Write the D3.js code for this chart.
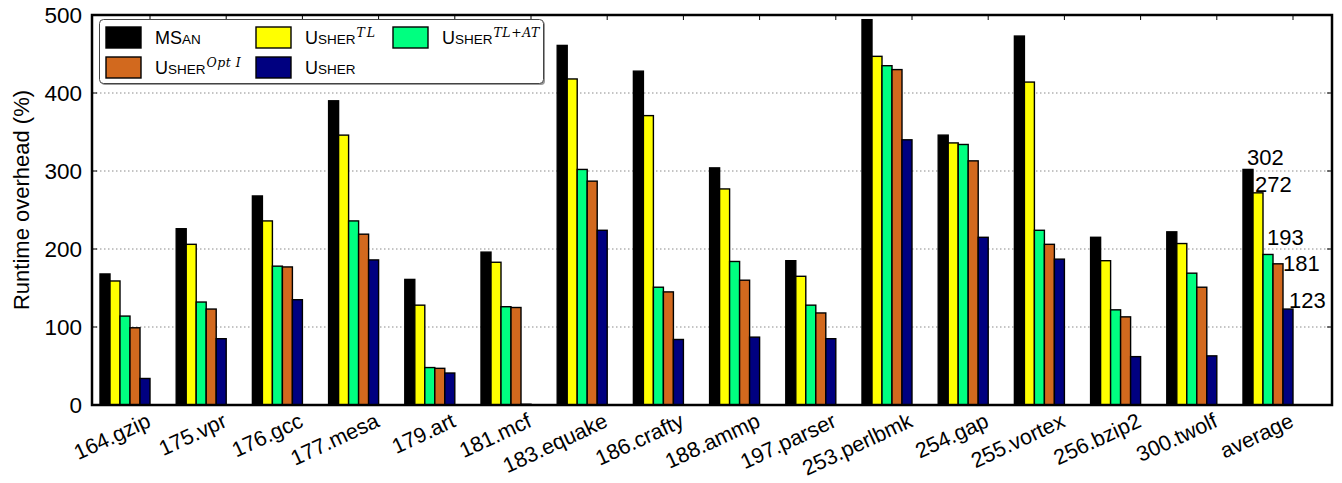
<!DOCTYPE html>
<html><head><meta charset="utf-8">
<script src="https://cdn.jsdelivr.net/npm/d3@7"></script>
<style>
html,body{margin:0;padding:0;background:#fff;}
text{font-family:"Liberation Sans",Arial,Helvetica,sans-serif;fill:#000;}
</style></head>
<body>
<svg id="chart" width="1342" height="483"></svg>
<script>
const categories = ["164.gzip","175.vpr","176.gcc","177.mesa","179.art","181.mcf","183.equake","186.crafty","188.ammp","197.parser","253.perlbmk","254.gap","255.vortex","256.bzip2","300.twolf","average"];
const msan      = [168,226,268,390,161,196,461,428,304,185,494,346,473,215,222,302];
const usherTL   = [159,206,236,346,128,183,418,371,277,165,447,336,414,185,207,272];
const usherTLAT = [114,132,178,236, 48,126,302,151,184,128,435,334,224,122,169,193];
const usherOpt  = [ 99,123,177,219, 47,125,287,145,160,118,430,313,206,113,151,181];
const usher     = [ 34, 85,135,186, 41,  1,224, 84, 87, 85,340,215,187, 62, 63,123];
const yTicks = [0,100,200,300,400,500];
const averageLabels = ["302","272","193","181","123"];

const seriesKeys = ["msan","tl","tlat","opt","usher"];
const seriesValues = {msan:msan, tl:usherTL, tlat:usherTLAT, opt:usherOpt, usher:usher};
const colors = {msan:"#000000", tl:"#ffff00", tlat:"#00ff80", opt:"#d2691e", usher:"#000080"};
const legendOrder = ["msan","tl","tlat","opt","usher"];
// label nudges (px) relative to bar top-left for the average labels
const labelNudge = [[4,-4],[2,-1],[4,-9],[10,7],[6,-1]];

const svg = d3.select("#chart");
const L = 92, R = 1332, T = 15, B = 405;
const groupStep = 76.2, firstGroup = 100, clusterW = 50;

const x = d3.scaleBand().domain(categories).range([firstGroup, firstGroup + groupStep*categories.length]).padding(0);
const xs = d3.scaleBand().domain(seriesKeys).range([0, clusterW]).padding(0);
const y = d3.scaleLinear().domain([0,500]).range([B, T]);

// gridlines
svg.append("g").selectAll("line").data(yTicks.filter(t => t>0 && t<500)).join("line")
  .attr("x1", L).attr("x2", R).attr("y1", d=>y(d)).attr("y2", d=>y(d))
  .attr("stroke","#8a8a8a").attr("stroke-width",1).attr("stroke-dasharray","1.5,2.5");

// bars
const groups = svg.append("g").selectAll("g").data(categories).join("g")
  .attr("transform", d => `translate(${x(d)},0)`);
groups.selectAll("rect").data((d,i) => seriesKeys.map(k => ({k, v: seriesValues[k][i]}))).join("rect")
  .attr("x", d => xs(d.k)).attr("width", xs.bandwidth())
  .attr("y", d => y(d.v)).attr("height", d => y(0) - y(d.v))
  .attr("fill", d => colors[d.k]).attr("stroke","#000").attr("stroke-width",1.4);

// ticks
const tk = svg.append("g").attr("stroke","#000").attr("stroke-width",1);
yTicks.forEach(t => {
  tk.append("line").attr("x1",L).attr("x2",L+5).attr("y1",y(t)).attr("y2",y(t));
  tk.append("line").attr("x1",R-5).attr("x2",R).attr("y1",y(t)).attr("y2",y(t));
});
categories.forEach(c => {
  const xx = x(c) + clusterW;
  tk.append("line").attr("x1",xx).attr("x2",xx).attr("y1",T).attr("y2",T+5);
});

// frame
svg.append("rect").attr("x",L).attr("y",T).attr("width",R-L).attr("height",B-T)
  .attr("fill","none").attr("stroke","#000").attr("stroke-width",2.5);

// y tick labels
svg.append("g").selectAll("text").data(yTicks).join("text")
  .attr("x", 82).attr("y", d => y(d)).attr("dy","0.36em")
  .attr("text-anchor","end").attr("font-size",22.5).text(d => d);

// y title
svg.append("text").attr("transform",`translate(29,${(T+B)/2 - 10}) rotate(-90)`)
  .attr("text-anchor","middle").attr("font-size",22).text("Runtime overhead (%)");

// x labels
svg.append("g").selectAll("text").data(categories).join("text")
  .attr("transform", d => `translate(${x(d)+clusterW+2},${B+21}) rotate(-25)`)
  .attr("text-anchor","end").attr("font-size",21.5).text(d => d);

// average labels
const avgCat = categories[categories.length-1];
const avgIdx = categories.length-1;
svg.append("g").selectAll("text").data(seriesKeys).join("text")
  .attr("x", (k,j) => x(avgCat) + xs(k) + labelNudge[j][0])
  .attr("y", (k,j) => y(seriesValues[k][avgIdx]) + labelNudge[j][1])
  .attr("font-size",22).text((k,j) => averageLabels[j]);

// legend
const lg = svg.append("g");
lg.append("rect").attr("x",101).attr("y",21).attr("width",444).attr("height",64).attr("rx",4)
  .attr("fill","#9a9a9a");
lg.append("rect").attr("x",99.5).attr("y",19.5).attr("width",444).attr("height",64).attr("rx",4)
  .attr("fill","#fff").attr("stroke","#444").attr("stroke-width",1);
const colX = [106, 256, 393];
const rowY = [27, 57];
const legendLabels = {
  msan: [["M",18,null],["S",18,null],["AN",13.5,null]],
  tl: [["U",18,null],["SHER",13.5,null],["TL",12.5,"sup"]],
  tlat: [["U",18,null],["SHER",13.5,null],["TL+AT",12.5,"sup"]],
  opt: [["U",18,null],["SHER",13.5,null],["Opt I",12.5,"sup"]],
  usher: [["U",18,null],["SHER",13.5,null]]
};
legendOrder.forEach((k, i) => {
  const cx = colX[i % 3], ry = rowY[Math.floor(i / 3)];
  lg.append("rect").attr("x",cx).attr("y",ry).attr("width",35).attr("height",21)
    .attr("fill",colors[k]).attr("stroke","#000").attr("stroke-width",1.4);
  const t = lg.append("text").attr("x", cx + 49).attr("y", ry + 16.5);
  legendLabels[k].forEach(([s, fs, kind]) => {
    const sp = t.append("tspan").attr("font-size", fs).text(s);
    if (kind === "sup") {
      sp.attr("font-family","'DejaVu Serif','Liberation Serif',serif").attr("font-style","italic")
        .attr("dy",-7).attr("dx",1).attr("letter-spacing", s === "TL" ? 2 : 0.5);
    }
  });
});
</script>
</body></html>
